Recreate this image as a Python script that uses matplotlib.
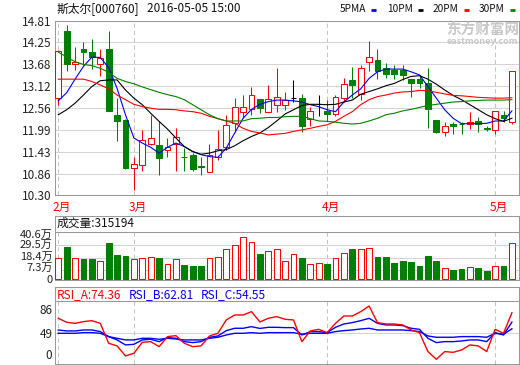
import matplotlib
matplotlib.use('Agg')
import matplotlib.pyplot as plt
import numpy as np

plt.rcParams['font.family'] = ['Noto Sans CJK SC', 'DejaVu Sans']

W, H = 520, 365

# daily K line, 2016-02-17 .. 2016-05-05
opens = [12.81, 14.54, 13.68, 14.09, 14.00, 13.68, 14.08, 12.38, 12.24, 11.00,
         11.09, 11.62, 11.60, 11.48, 11.63, 11.30, 11.35, 11.05, 10.90, 11.28,
         11.56, 12.16, 12.46, 12.52, 12.78, 12.45, 12.64, 12.64, 12.81, 12.81,
         12.27, 12.65, 12.49, 12.40, 12.81, 13.28, 12.91, 13.74, 13.80, 13.58,
         13.54, 13.54, 13.30, 13.30, 13.19, 12.25, 11.93, 12.15, 12.15, 12.15,
         12.21, 12.04, 11.98, 12.38, 12.20]
highs = [14.05, 14.70, 14.12, 14.27, 14.35, 14.07, 14.55, 12.81, 12.26, 11.29,
         11.98, 12.38, 12.22, 11.78, 12.03, 11.52, 11.39, 11.30, 11.62, 11.99,
         12.38, 12.81, 12.89, 13.11, 12.78, 13.15, 13.60, 12.98, 13.28, 12.92,
         12.57, 12.89, 12.76, 12.89, 13.34, 13.62, 13.67, 14.29, 14.08, 13.71,
         13.67, 13.67, 13.30, 13.37, 13.58, 12.25, 12.19, 12.19, 12.19, 12.46,
         12.32, 12.08, 12.48, 12.48, 13.51]
lows = [12.64, 13.50, 13.54, 13.67, 13.56, 13.39, 12.47, 11.71, 10.99, 10.43,
        10.94, 11.60, 10.82, 11.30, 10.92, 10.92, 10.92, 10.82, 10.90, 11.20,
        11.48, 11.93, 12.29, 12.38, 12.42, 12.45, 12.46, 12.51, 12.70, 11.93,
        12.10, 12.34, 12.21, 12.36, 12.70, 12.81, 12.76, 13.50, 13.31, 13.32,
        13.31, 13.28, 12.85, 13.07, 12.03, 11.90, 11.82, 11.89, 11.89, 12.02,
        11.93, 11.95, 11.89, 12.19, 12.15]
closes = [14.03, 13.68, 13.75, 14.01, 13.87, 13.84, 12.49, 12.21, 11.00, 11.11,
          11.73, 11.78, 11.26, 11.56, 11.80, 11.28, 10.98, 11.03, 11.35, 11.49,
          12.12, 12.58, 12.58, 12.89, 12.55, 12.78, 12.84, 12.76, 12.81, 12.10,
          12.49, 12.65, 12.40, 12.84, 13.17, 13.15, 13.60, 13.88, 13.52, 13.43,
          13.43, 13.41, 13.19, 13.19, 12.52, 11.93, 12.10, 12.09, 12.13, 12.19,
          12.15, 12.00, 12.48, 12.29, 13.51]

ma5 = [12.74, 12.95, 13.30, 13.63, 13.87, 13.86, 13.60, 13.06, 12.38, 11.78,
       11.65, 11.54, 11.39, 11.54, 11.65, 11.56, 11.43, 11.35, 11.30, 11.28,
       11.52, 11.91, 12.29, 12.52, 12.65, 12.72, 12.76, 12.76, 12.74, 12.71,
       12.64, 12.59, 12.51, 12.46, 12.71, 12.89, 13.05, 13.32, 13.49, 13.56,
       13.56, 13.56, 13.49, 13.41, 13.11, 12.81, 12.51, 12.29, 12.15, 12.15,
       12.15, 12.16, 12.22, 12.22, 12.48]
ma10 = [12.38, 12.51, 12.68, 12.89, 13.11, 13.26, 13.28, 13.28, 13.02, 12.81,
        12.64, 12.42, 12.21, 12.01, 11.78, 11.56, 11.43, 11.36, 11.39, 11.45,
        11.48, 11.58, 11.71, 11.82, 11.91, 12.05, 12.22, 12.40, 12.51, 12.62,
        12.65, 12.65, 12.64, 12.65, 12.71, 12.76, 12.91, 12.98, 13.05, 13.13,
        13.19, 13.29, 13.37, 13.39, 13.30, 13.17, 13.02, 12.88, 12.77, 12.64,
        12.51, 12.38, 12.28, 12.21, 12.29]
ma20 = [13.30, 13.30, 13.30, 13.30, 13.24, 13.15, 13.05, 12.89, 12.77, 12.65,
        12.59, 12.55, 12.52, 12.52, 12.51, 12.48, 12.46, 12.42, 12.34, 12.28,
        12.22, 12.16, 12.03, 11.95, 11.91, 11.86, 11.88, 11.90, 11.95, 11.99,
        12.03, 12.08, 12.12, 12.21, 12.34, 12.46, 12.64, 12.77, 12.85, 12.89,
        12.94, 12.97, 12.98, 13.01, 13.00, 12.96, 12.92, 12.88, 12.87, 12.85,
        12.83, 12.82, 12.81, 12.81, 12.82]
ma30 = [14.00, 13.87, 13.75, 13.68, 13.65, 13.58, 13.48, 13.32, 13.24, 13.18,
        13.10, 13.03, 12.96, 12.90, 12.85, 12.77, 12.64, 12.51, 12.38, 12.28,
        12.22, 12.22, 12.22, 12.28, 12.29, 12.31, 12.31, 12.33, 12.34, 12.34,
        12.28, 12.22, 12.21, 12.19, 12.16, 12.14, 12.16, 12.22, 12.29, 12.38,
        12.42, 12.48, 12.52, 12.57, 12.62, 12.65, 12.68, 12.71, 12.72, 12.74,
        12.75, 12.76, 12.76, 12.76, 12.77]

# volume, in 万 shares
vols = [18.4, 27.5, 18.4, 16.9, 16.9, 15.1, 31.1, 20.4, 19.5, 16.9,
        17.8, 19.2, 17.8, 13.0, 16.9, 11.5, 10.7, 10.7, 18.4, 19.2,
        25.8, 29.3, 36.1, 31.7, 21.3, 24.6, 26.3, 15.1, 21.9, 17.8,
        13.0, 13.9, 12.4, 18.4, 22.8, 25.8, 26.3, 27.2, 18.6, 18.6,
        13.3, 15.1, 14.2, 10.7, 19.5, 15.1, 9.5, 7.1, 8.0, 10.4,
        8.9, 6.2, 11.3, 10.7, 31.5]

rsi_a = [67.5, 62.6, 61.3, 63.4, 64.6, 61.3, 36.7, 33.4, 21.0, 24.3,
         37.9, 38.7, 32.5, 44.9, 46.1, 36.7, 32.5, 33.4, 45.7, 49.0,
         65.5, 71.6, 71.6, 75.7, 63.0, 67.5, 69.6, 66.3, 65.5, 38.7,
         51.9, 53.9, 49.8, 61.3, 70.4, 70.4, 75.7, 82.7, 62.2, 60.5,
         60.5, 59.3, 53.1, 49.8, 26.4, 16.9, 26.4, 25.5, 28.4, 34.6,
         33.4, 26.4, 53.9, 49.0, 74.36]
rsi_b = [53.1, 51.9, 51.9, 53.1, 53.1, 51.1, 44.9, 40.8, 34.6, 35.4,
         40.8, 41.6, 38.7, 43.7, 42.8, 38.7, 37.5, 38.7, 44.1, 45.7,
         52.3, 55.2, 55.2, 57.2, 55.0, 56.4, 56.4, 56.0, 56.0, 46.9,
         51.1, 51.1, 49.8, 56.4, 60.5, 62.2, 64.6, 67.5, 61.3, 59.3,
         59.3, 58.5, 55.2, 53.9, 42.8, 37.5, 38.7, 38.7, 39.5, 40.8,
         40.8, 38.7, 49.8, 46.9, 62.81]
rsi_c = [49.0, 49.0, 49.0, 49.8, 49.8, 49.0, 44.9, 42.8, 40.8, 40.8,
         42.8, 42.8, 41.6, 42.8, 42.0, 40.8, 40.8, 40.8, 42.8, 44.1,
         46.9, 49.0, 49.0, 49.8, 49.0, 49.8, 49.8, 49.8, 49.8, 47.8,
         49.0, 49.0, 49.0, 51.1, 52.3, 53.1, 54.3, 55.2, 53.1, 53.1,
         53.1, 53.1, 52.3, 51.1, 45.7, 44.1, 44.1, 44.1, 44.9, 44.9,
         44.9, 44.1, 49.0, 47.8, 54.55]

month_pos = [0, 9, 32, 52]
month_labels = ['2月', '3月', '4月', '5月']
price_ticks = [10.30, 10.86, 11.43, 11.99, 12.56, 13.12, 13.68, 14.25, 14.81]
vol_grid = [7.3, 18.4, 29.5]
vol_labels = ['0', '7.3万', '18.4万', '29.5万', '40.6万']
rsi_labels = ['0', '49', '86']

RED, GREEN, BLUE = '#ff0000', '#008000', '#0000ff'
FRAME, GRID, DASH = '#999999', '#d4d4d4', '#c4c4c4'
LW = 0.75


def px_rect(left, top, right, bottom):
    return [left / W, 1 - bottom / H, (right - left) / W, (bottom - top) / H]


def ftext(x, y, s, **kw):
    fig.text(x / W, 1 - y / H, s, va='center', **kw)


o = np.array(opens)
c = np.array(closes)
n = len(c)
idx = np.arange(n)
colors = np.where(c > o, RED, np.where(c < o, GREEN, 'black'))
faces = np.where(c > o, 'white', colors)

fig = plt.figure(figsize=(W / 100, H / 100), dpi=100)
ax = fig.add_axes(px_rect(55, 20.7, 519.3, 195.3))
axv = fig.add_axes(px_rect(55, 215.5, 519.3, 280.3))
axr = fig.add_axes(px_rect(55, 286.5, 519.3, 364.3))

for a in (ax, axv, axr):
    a.set_xlim(-0.39, 54.88)
    a.set_xticks([])
    for s in a.spines.values():
        s.set_color(FRAME)
        s.set_linewidth(LW)
    a.tick_params(axis='y', length=0, pad=2.5, labelsize=8.5, labelcolor='#222222')

# --- price panel
ax.set_ylim(10.30, 14.81)
ax.set_yticks(price_ticks)
ax.set_yticklabels(['%.2f' % t for t in price_ticks])
for t in price_ticks:
    ax.axhline(t, color=GRID, lw=LW, zorder=0)
for m in month_pos:
    ax.axvline(m, color=DASH, lw=LW, ls=(0, (4, 3)), zorder=0)

ax.vlines(idx, lows, highs, colors=colors, lw=LW, zorder=3)
ax.bar(idx, np.maximum(np.abs(c - o), 0.004), bottom=np.minimum(o, c), width=0.68,
       facecolor=faces, edgecolor=colors, lw=LW, zorder=4)
ax.plot(idx, ma5, color=BLUE, lw=0.8, zorder=5)
ax.plot(idx, ma10, color='black', lw=0.8, zorder=5)
ax.plot(idx, ma20, color=RED, lw=0.8, zorder=5)
ax.plot(idx, ma30, color=GREEN, lw=0.8, zorder=5)

for m, lab in zip(month_pos, month_labels):
    ftext(58.3 + 8.4 * m - 5.5, 207, lab, ha='left', color=RED, fontsize=8.5)

# --- volume panel (0 at y=278.5 px, 40.6 at y=232.3 px)
axv.set_ylim(-1.58, 55.36)
axv.set_yticks([])
for t in vol_grid:
    axv.axhline(t, color=GRID, lw=LW, zorder=0)
axv.axhline(40.6, color=FRAME, lw=LW, zorder=1)
axv.vlines(month_pos, -1.58, 40.6, colors=DASH, lw=LW, linestyles=(0, (4, 3)), zorder=0)
axv.bar(idx, vols, width=0.68, facecolor=np.where(c >= o, 'white', GREEN),
        edgecolor=np.where(c >= o, RED, GREEN), lw=LW, zorder=3)
for y, lab in zip([280, 268.3, 256.7, 245, 235], vol_labels):
    ftext(52.5, y, lab, ha='right', fontsize=8, color='#222222')

# --- RSI panel
axr.set_ylim(10.7, 106.8)
axr.set_yticks([])
axr.axhline(49, color=GRID, lw=LW, zorder=0)
axr.axhline(88.3, color=FRAME, lw=LW, zorder=1)
axr.vlines(month_pos, 10.7, 88.3, colors=DASH, lw=LW, linestyles=(0, (4, 3)), zorder=0)
axr.plot(idx, rsi_c, color=BLUE, lw=1.0, zorder=3)
axr.plot(idx, rsi_b, color=BLUE, lw=1.0, zorder=3)
axr.plot(idx, rsi_a, color=RED, lw=1.0, zorder=4)
for y, lab in zip([355.7, 334, 310], rsi_labels):
    ftext(52.5, y, lab, ha='right', fontsize=8.5, color='#222222')

# --- texts
ftext(56.7, 9, '斯太尔[000760]', ha='left', fontsize=8.5, color='#111111')
ftext(146.7, 9, '2016-05-05 15:00', ha='left', fontsize=8.5, color='#111111')

legend = [('5PMA', 340, BLUE), ('10PM', 386.7, 'black'), ('20PM', 432.7, RED), ('30PM', 479, GREEN)]
for lab, x, col in legend:
    ftext(x, 9.5, lab, ha='left', fontsize=7.3, color='#111111')
    fig.add_artist(plt.Line2D([(x + 31) / W, (x + 36) / W], [1 - 10 / H] * 2,
                              color=col, lw=2, solid_capstyle='butt'))

ftext(482.5, 29.5, '东方财富网', ha='center', fontsize=10.5, weight='bold', color='#c8c8c8')
ftext(482.5, 41, 'eastmoney.com', ha='center', fontsize=6.5, weight='bold',
      style='italic', color='#c8c8c8')

ftext(57, 223, '成交量:315194', ha='left', fontsize=8.5, color='#111111')
ftext(57, 295, 'RSI_A:74.36', ha='left', fontsize=8.5, color=RED)
ftext(129, 295, 'RSI_B:62.81', ha='left', fontsize=8.5, color=BLUE)
ftext(201, 295, 'RSI_C:54.55', ha='left', fontsize=8.5, color=BLUE)

fig.savefig('out.png', dpi=100)
